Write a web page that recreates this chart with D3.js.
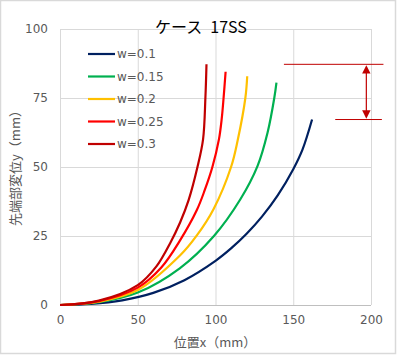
<!DOCTYPE html>
<html><head><meta charset="utf-8">
<script src="https://cdn.jsdelivr.net/npm/d3@7"></script>
<style>html,body{margin:0;padding:0;background:#fff;}svg{display:block;}</style>
</head><body>
<svg id="c" width="401" height="355"></svg>
<script>
const titleText = "ケース\u200217SS";
const xTitle = "位置x（mm）";
const yTitle = "先端部変位y（mm）";
const xTicks = [0, 50, 100, 150, 200];
const yTicks = [0, 25, 50, 75, 100];
const seriesNames = ["w=0.1", "w=0.15", "w=0.2", "w=0.25", "w=0.3"];
const seriesColors = ["#002060", "#00B050", "#FFC000", "#FF0000", "#C00000"];
const s01 = [[0,0],[20,0.4],[40,1.7],[60,4.4],[80,9.0],[100,16.0],[110,20.5],[120,25.8],[130,32.1],[140,39.7],[150,49.2],[156,56.4],[162.1,67.2]];
const s015 = [[0,0],[25,1.0],[50,4.5],[77,13.3],[99,25],[116,38.3],[127,50.3],[133.5,62.5],[137.8,75],[139.2,80.6]];
const s02 = [[0,0],[25,1.2],[50,5.4],[77.3,18],[88,25.2],[98.8,34.8],[110,50],[114.2,59.5],[119.2,75],[120.4,82.9]];
const s025 = [[0,0],[25,1.4],[50,6.3],[65,13.5],[77.3,23.5],[88,34.4],[93,41.5],[98,50],[102.2,60],[104,67.5],[105.2,75],[106.5,84.5]];
const s03 = [[0,0],[25,1.6],[50,7.2],[62,14],[70.9,22.5],[77.3,30],[82.7,38],[88.4,50],[92,60],[93.5,75],[94.2,87.2]];
const seriesData = [s01, s015, s02, s025, s03];
// annotation: difference between max of w=0.3 and w=0.1
const annTopX = [144, 208];
const annBotX = [177, 207];
const annArrowX = 197;

const svg = d3.select("#c");
const W = 401, H = 355;
svg.append("rect").attr("x",0.5).attr("y",0.5).attr("width",W-6).attr("height",H-2)
  .attr("fill","#fff").attr("stroke","#d9d9d9").attr("stroke-width",1.5);

const x = d3.scaleLinear().domain([0,200]).range([60,371]);
const y = d3.scaleLinear().domain([0,100]).range([305,29]);

const g = svg.append("g");
g.selectAll(".hg").data(yTicks).join("line")
  .attr("x1",x(0)).attr("x2",x(200)).attr("y1",d=>y(d)+0.5).attr("y2",d=>y(d)+0.5)
  .attr("stroke",d=>d===0?"#bfbfbf":"#d9d9d9").attr("stroke-width",1);
g.selectAll(".vg").data(xTicks).join("line")
  .attr("y1",y(0)).attr("y2",y(100)).attr("x1",d=>x(d)+0.5).attr("x2",d=>x(d)+0.5)
  .attr("stroke","#d9d9d9").attr("stroke-width",1);

const font = "'DejaVu Sans', Verdana, sans-serif";
const cjk = "'Noto Sans CJK JP', sans-serif";
const xa = svg.append("g").attr("transform",`translate(0,${y(0)})`)
  .call(d3.axisBottom(x).tickValues(xTicks).tickSize(0).tickPadding(10));
const ya = svg.append("g").attr("transform",`translate(${x(0)},0)`)
  .call(d3.axisLeft(y).tickValues(yTicks).tickSize(0).tickPadding(12));
[xa,ya].forEach(a=>{
  a.select(".domain").remove();
  a.selectAll("text").attr("fill","#595959").style("font-family",font).style("font-size","12px");
});

const line = d3.line().x(d=>x(d[0])).y(d=>y(d[1])).curve(d3.curveCatmullRom.alpha(0.5));
seriesData.forEach((s,i)=>{
  svg.append("path").datum(s).attr("d",line).attr("fill","none")
    .attr("stroke",seriesColors[i]).attr("stroke-width",2.2).attr("stroke-linecap","butt");
});

const lg = svg.append("g");
seriesNames.forEach((n,i)=>{
  const yy = 54 + i*22.5;
  lg.append("line").attr("x1",88).attr("x2",115).attr("y1",yy).attr("y2",yy)
    .attr("stroke",seriesColors[i]).attr("stroke-width",2.2);
  lg.append("text").attr("x",117).attr("y",yy).attr("dy","0.35em").text(n)
    .attr("fill","#595959").style("font-family",font).style("font-size","12px");
});

svg.append("text").attr("x",201).attr("y",33).attr("text-anchor","middle").text(titleText)
  .attr("fill","#000").style("font-family",cjk).style("font-size","16px");
svg.append("text").attr("x",215).attr("y",347).attr("text-anchor","middle").text(xTitle)
  .attr("fill","#595959").style("font-family",cjk).style("font-size","13px");
svg.append("text").attr("transform","translate(20,165) rotate(-90)").attr("text-anchor","middle").text(yTitle)
  .attr("fill","#595959").style("font-family",cjk).style("font-size","13px");

const topY = d3.max(s03, d=>d[1]), botY = d3.max(s01, d=>d[1]);
const annColor = "#C00000";
svg.append("line").attr("x1",x(annTopX[0])).attr("x2",x(annTopX[1])).attr("y1",y(topY)).attr("y2",y(topY))
  .attr("stroke",annColor).attr("stroke-width",1);
svg.append("line").attr("x1",x(annBotX[0])).attr("x2",x(annBotX[1])).attr("y1",y(botY)).attr("y2",y(botY))
  .attr("stroke",annColor).attr("stroke-width",1);
const defs = svg.append("defs");
defs.append("marker").attr("id","ah").attr("viewBox","0 0 10 10").attr("refX",5).attr("refY",5)
  .attr("markerWidth",7).attr("markerHeight",7).attr("orient","auto-start-reverse")
  .append("path").attr("d","M0,0 L10,5 L0,10 z").attr("fill",annColor);
svg.append("line").attr("x1",x(annArrowX)).attr("x2",x(annArrowX)).attr("y1",y(topY)+5).attr("y2",y(botY)-5)
  .attr("stroke",annColor).attr("stroke-width",1.2)
  .attr("marker-start","url(#ah)").attr("marker-end","url(#ah)");
</script>
</body></html>
